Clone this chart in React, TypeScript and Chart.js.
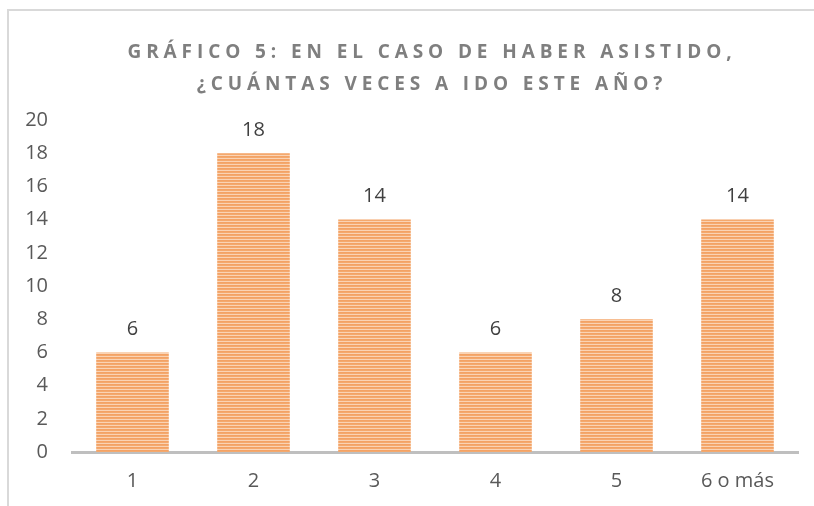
import React, { useEffect, useRef } from "react";
import { Chart, registerables } from "chart.js";

Chart.register(...registerables);

const titleLines = [
  "GRÁFICO 5: EN EL CASO DE HABER ASISTIDO,",
  "¿CUÁNTAS VECES A IDO ESTE AÑO?",
];
const categories = ["1", "2", "3", "4", "5", "6 o más"];
const values = [6, 18, 14, 6, 8, 14];
const yMin = 0;
const yMax = 20;
const yStep = 2;

function makePattern(): CanvasPattern | string {
  const c = document.createElement("canvas");
  c.width = 4;
  c.height = 3;
  const g = c.getContext("2d");
  if (!g) return "#F4AC73";
  const rows = ["#FAD3B4", "#F3A265", "#F4A96E"];
  rows.forEach((col, i) => {
    g.fillStyle = col;
    g.fillRect(0, i, 4, 1);
  });
  const p = g.createPattern(c, "repeat");
  return p || "#F4AC73";
}

const titlePlugin = {
  id: "spacedTitle",
  afterDraw(chart: any) {
    const ctx = chart.ctx as CanvasRenderingContext2D;
    ctx.save();
    ctx.font = "bold 19px 'Open Sans'";
    (ctx as any).letterSpacing = "4.9px";
    ctx.fillStyle = "#7F7F7F";
    ctx.textAlign = "center";
    ctx.textBaseline = "alphabetic";
    const cx = 423;
    const baselines = [47, 79];
    titleLines.forEach((t, i) => {
      ctx.fillText(t, cx, baselines[i]);
    });
    ctx.restore();
  },
};

const valueLabelPlugin = {
  id: "valueLabels",
  afterDatasetsDraw(chart: any) {
    const ctx = chart.ctx as CanvasRenderingContext2D;
    const meta = chart.getDatasetMeta(0);
    const data = chart.data.datasets[0].data as number[];
    ctx.save();
    ctx.font = "20px 'Open Sans'";
    ctx.fillStyle = "#404040";
    ctx.textAlign = "center";
    ctx.textBaseline = "middle";
    meta.data.forEach((el: any, i: number) => {
      ctx.fillText(String(data[i]), el.x, el.y - 23);
    });
    ctx.restore();
  },
};

export default function App() {
  const ref = useRef<HTMLCanvasElement | null>(null);

  useEffect(() => {
    document.body.style.overflow = "hidden";
    const canvas = ref.current;
    if (!canvas) return;
    const chart = new Chart(canvas, {
      type: "bar",
      data: {
        labels: categories,
        datasets: [
          {
            data: values,
            backgroundColor: makePattern() as any,
            borderWidth: 0,
            barPercentage: 0.6,
            categoryPercentage: 1,
          },
        ],
      },
      options: {
        responsive: false,
        animation: false,
        devicePixelRatio: 1,
        layout: { padding: { left: 0, top: 109, right: 16, bottom: 0 } },
        plugins: {
          legend: { display: false },
          title: { display: false },
          tooltip: { enabled: false },
        },
        scales: {
          x: {
            z: 1,
            grid: { display: false, drawTicks: false },
            border: { display: true, color: "#BFBFBF", width: 3 },
            ticks: {
              color: "#595959",
              font: { family: "'Open Sans'", size: 20 },
              padding: 17,
              maxRotation: 0,
              autoSkip: false,
            },
            afterFit(scale: any) {
              scale.height = 54;
            },
          },
          y: {
            min: yMin,
            max: yMax,
            grid: { display: false, drawTicks: false },
            border: { display: false },
            ticks: {
              stepSize: yStep,
              color: "#595959",
              font: { family: "'Open Sans'", size: 20 },
              padding: 24,
            },
            afterFit(scale: any) {
              scale.width = 63;
            },
          },
        },
      },
      plugins: [titlePlugin, valueLabelPlugin],
    });
    return () => chart.destroy();
  }, []);

  return (
    <div
      style={{
        position: "absolute",
        left: 7,
        top: 9,
        width: 805,
        height: 495,
        borderLeft: "2px solid #D9D9D9",
        borderTop: "2px solid #D9D9D9",
        background: "#fff",
      }}
    >
      <canvas ref={ref} width={805} height={495} style={{ display: "block" }} />
    </div>
  );
}
